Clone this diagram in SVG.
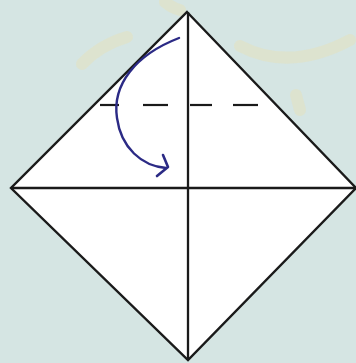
<svg xmlns="http://www.w3.org/2000/svg" width="356" height="363" viewBox="0 0 356 363">
<style>
.ln{stroke:#1a1a1a;stroke-width:2.3;fill:none}
.sun{stroke:#e4e2bf;stroke-width:12;fill:none;stroke-linecap:round;opacity:0.55}
.dash{stroke:#1a1a1a;stroke-width:2.2}
</style>
<rect width="356" height="363" fill="#d5e5e3"/>
<g id="background">
<path class="sun" d="M82,64 Q100,45 127,37"/>
<path class="sun" d="M165,2 Q172,8 180,10"/>
<path class="sun" d="M240,46 Q290,72 350,40"/>
<path class="sun" d="M296,95 L300,110"/>
</g>
<g id="paper">
<polygon points="187,12 356,188 188,360 11,188" fill="#ffffff" stroke="#1a1a1a" stroke-width="2.4" stroke-linejoin="miter"/>
<line class="ln" x1="11" y1="188" x2="356" y2="188"/>
<line class="ln" x1="188" y1="12" x2="188" y2="360"/>
</g>
<g id="fold-line">
<line class="dash" x1="100" y1="105" x2="119" y2="105"/>
<line class="dash" x1="143" y1="105" x2="168" y2="105"/>
<line class="dash" x1="190" y1="105" x2="212" y2="105"/>
<line class="dash" x1="233" y1="105" x2="258" y2="105"/>
</g>
<g id="connectors">
<path d="M179,38 C135,55 112,85 117,118 C121,148 142,166 166,168" stroke="#2b2a85" stroke-width="2.4" fill="none" stroke-linecap="round"/>
<path d="M163,155 L168,167 L157,176" stroke="#2b2a85" stroke-width="2.6" fill="none" stroke-linecap="round" stroke-linejoin="round"/>
</g>
</svg>
